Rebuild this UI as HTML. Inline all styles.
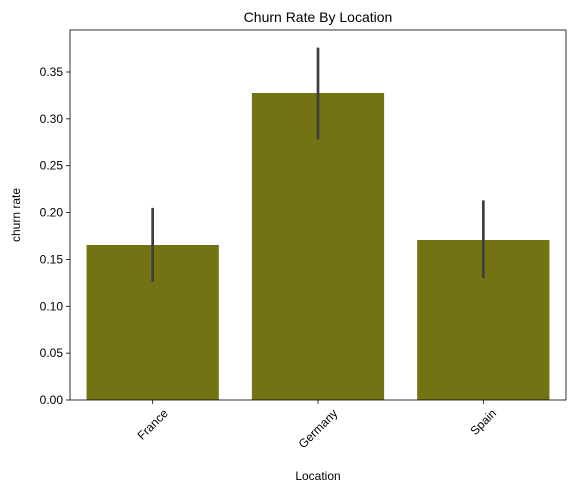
<!DOCTYPE html>
<html><head><meta charset="utf-8"><style>
body{margin:0;background:#fff;}
svg text{font-family:"Liberation Sans","DejaVu Sans",sans-serif;fill:#000;}
</style></head><body>
<svg id="chart" width="576" height="494"></svg>
<script>
const categories=["France","Germany","Spain"];
const values=[0.1654,0.3276,0.1707];
const errLow=[0.126,0.278,0.130];
const errHigh=[0.205,0.376,0.213];
const yTicks=[0,0.05,0.10,0.15,0.20,0.25,0.30,0.35];
const yTickLabels=["0.00","0.05","0.10","0.15","0.20","0.25","0.30","0.35"];

const svg=document.getElementById('chart');
const NS="http://www.w3.org/2000/svg";
const L=70,R=566,T=30,B=400,yMax=0.3948;
const y=v=>B-(v/yMax)*(B-T);
const step=(R-L)/categories.length;
const x=i=>L+step*i+step/2;
function el(t,a,parent){const e=document.createElementNS(NS,t);for(const k in a)e.setAttribute(k,a[k]);(parent||svg).appendChild(e);return e;}

const title=el('text',{x:318,y:22,'text-anchor':'middle','font-size':14});
title.textContent="Churn Rate By Location";



categories.forEach((c,i)=>{
  const bw=step*0.8;
  const r=el('rect',{x:x(i)-bw/2,y:y(values[i]),width:bw,height:B-y(values[i]),fill:'#737313'});
  
  
  const e=el('line',{x1:x(i),x2:x(i),y1:y(errLow[i]),y2:y(errHigh[i]),stroke:'#3f3f3f','stroke-width':2.7});
  
  
  el('line',{x1:x(i),x2:x(i),y1:B,y2:B+4,stroke:'#000','stroke-width':0.8});
  const t=el('text',{'font-size':12,'text-anchor':'middle',x:0,y:4});
  t.textContent=c;
  
  
  const w=t.getComputedTextLength();
  const h=12;
  const cy=B+7+(w+h)*0.7071/2;
  t.setAttribute('transform',`translate(${x(i)},${cy}) rotate(-45)`);
});

yTicks.forEach((v,i)=>{
  el('line',{x1:L-4,x2:L,y1:y(v),y2:y(v),stroke:'#000','stroke-width':0.8});
  const t=el('text',{x:L-7,y:y(v)+4,'text-anchor':'end','font-size':12});
  t.textContent=yTickLabels[i];
  
  
});

const frame=el('rect',{x:L,y:T,width:R-L,height:B-T,fill:'none',stroke:'#000','stroke-width':0.8});



const xl=el('text',{x:318,y:480,'text-anchor':'middle','font-size':12});
xl.textContent="Location";


const yl=el('text',{'font-size':12,'text-anchor':'middle',transform:`translate(20,${(T+B)/2}) rotate(-90)`});
yl.textContent="churn rate";


</script>
</body></html>
